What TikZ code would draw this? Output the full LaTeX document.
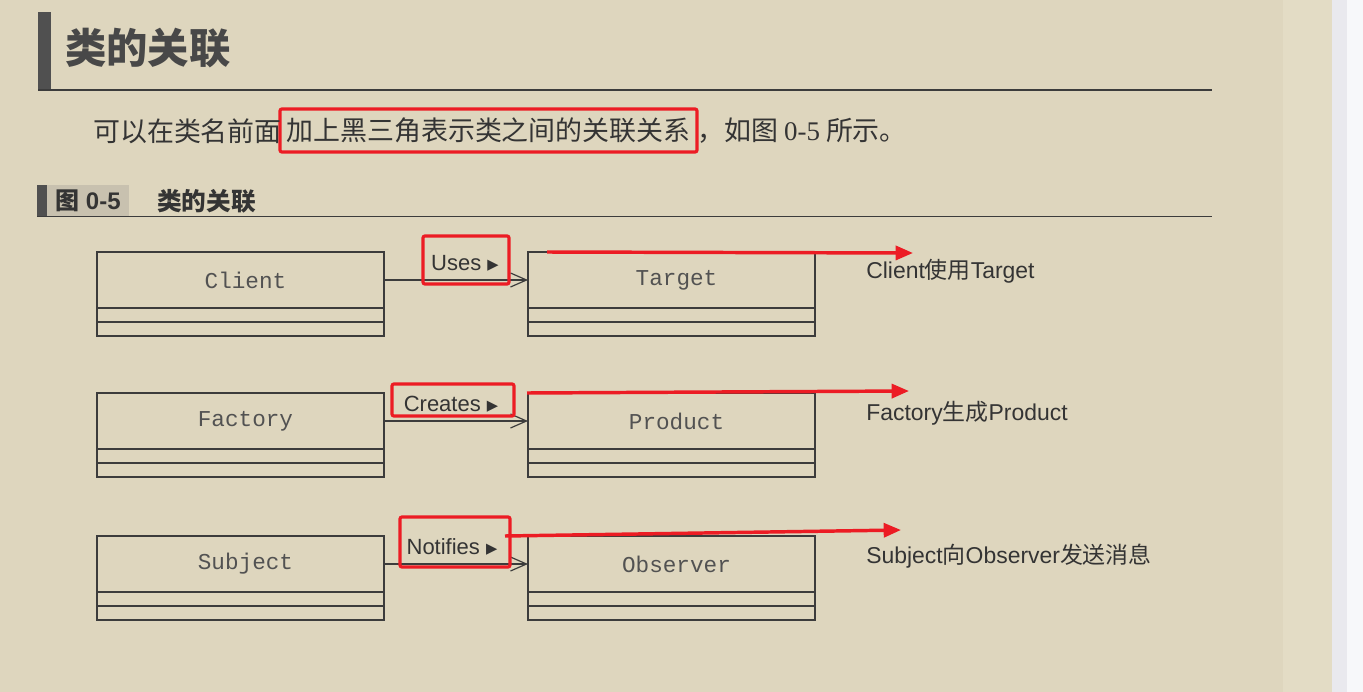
\documentclass[tikz,border=0pt]{standalone}
\usepackage{fontspec}
\setmainfont{Liberation Sans}
\newfontfamily\cjk{Noto Sans CJK SC}
\newfontfamily\serifnum{Liberation Serif}
\newfontfamily\monofnt{Liberation Mono}
\newfontfamily\symfnt{DejaVu Sans}
\usetikzlibrary{arrows.meta}
\definecolor{bgc}{RGB}{222,214,190}
\definecolor{bgband}{RGB}{227,220,197}
\definecolor{grstrip}{RGB}{233,233,238}
\definecolor{whstrip}{RGB}{247,248,250}
\definecolor{txtc}{RGB}{52,52,52}
\definecolor{linec}{RGB}{60,60,60}
\definecolor{barc}{RGB}{80,80,80}
\definecolor{capbox}{RGB}{200,193,175}
\definecolor{redc}{RGB}{236,28,36}
\tikzset{
  cls/.style={draw=linec, line width=0.9pt, minimum width=215.25pt, minimum height=42pt,
    inner sep=0pt, outer sep=0pt, anchor=north west, text=txtc!85,
    font=\monofnt\fontsize{17}{17}\selectfont},
  clsline/.style={draw=linec, line width=0.9pt},
  assoc/.style={draw=linec, line width=0.9pt, -{Straight Barb[length=12pt,width=10.5pt,line width=0.9pt]}},
  redbox/.style={draw=redc, line width=2.4pt, rounded corners=1.5pt, inner sep=0pt},
  redarrow/.style={draw=redc, line width=2.6pt, -{Triangle[length=13pt,width=10.5pt]}},
  lbl/.style={text=txtc, inner sep=0pt, font=\fontsize{16.5}{16.5}\selectfont},
  note/.style={text=txtc, inner sep=0pt, anchor=west, font=\fontsize{17.2}{17.2}\selectfont},
  para/.style={text=txtc, inner sep=0pt, font=\cjk\fontsize{20.2}{20.2}\selectfont},
}
\newcommand\umlclass[3]{%
  \node[cls] (#1) at (#2) {\hspace*{7.5pt}#3};
  \draw[clsline] (#1.south west) -- ++(0,28) -- ++(287,0) -- ++(0,-28);
  \draw[clsline] (#1.south west) ++(0,14) -- ++(287,0);
}
\begin{document}
\begin{tikzpicture}[x=0.75pt,y=-0.75pt]
\useasboundingbox (0,0) rectangle (1363,692);
% background
\fill[bgc] (0,0) rectangle (1332,692);
\fill[bgband] (1283,0) rectangle (1332,692);
\fill[grstrip] (1332,0) rectangle (1347,692);
\fill[whstrip] (1347,0) rectangle (1363,692);
% title
\fill[barc] (38,12) rectangle (51,90);
\draw[linec, line width=1.6pt] (38,90) -- (1212,90);
\node[text=txtc!90, inner sep=0pt, anchor=west, font=\cjk\bfseries\fontsize{31}{31}\selectfont] (title) at (65,48) {类的关联};
% paragraph
\node[redbox, para, minimum width=312.75pt, minimum height=32.25pt] (hl) at (488.5,130.5) {加上黑三角表示类之间的关联关系};
\node[para, anchor=east] (p1) at (282,131) {可以在类名前面};
\node[para, anchor=west] (p2) at (697,131) {，如图 {\serifnum 0-5} 所示。};
% caption
\fill[capbox] (46,185) rectangle (129,216);
\fill[barc] (37,185) rectangle (47,216);
\draw[linec, line width=1.1pt] (37,216.5) -- (1212,216.5);
\node[text=txtc, inner sep=0pt, anchor=west, font=\fontsize{18}{18}\selectfont\bfseries] (fig) at (55,201) {{\cjk 图} 0-5};
\node[text=txtc, inner sep=0pt, anchor=west, font=\cjk\bfseries\fontsize{18.5}{18.5}\selectfont] (figt) at (157,201) {类的关联};
% classes
\umlclass{client}{97,252}{Client}
\umlclass{target}{528,252}{Target}
\umlclass{factory}{97,393}{Factory}
\umlclass{product}{528,393}{Product}
\umlclass{subject}{97,536}{Subject}
\umlclass{observer}{528,536}{Observer}
% associations
\draw[assoc] (client) -- (target);
\draw[assoc] (factory) -- (product);
\draw[assoc] (subject) -- (observer);
% labels in red boxes
\node[redbox, minimum width=64.5pt, minimum height=36pt] (ubox) at (466,260) {};
\node[lbl] (uses) at (465,263) {Uses {\symfnt\fontsize{11}{11}\selectfont\raisebox{1pt}{▶}}};
\node[redbox, minimum width=91.5pt, minimum height=24pt] (cbox) at (453,400) {};
\node[lbl] (creates) at (451,404) {Creates {\symfnt\fontsize{11}{11}\selectfont\raisebox{1pt}{▶}}};
\node[redbox, minimum width=82.5pt, minimum height=37.5pt] (nbox) at (455,542) {};
\node[lbl] (notifies) at (452,547) {Notifies {\symfnt\fontsize{11}{11}\selectfont\raisebox{1pt}{▶}}};
% notes
\node[note] (n1) at (866,271) {Client{\cjk 使用}Target};
\node[note] (n2) at (866,413) {Factory{\cjk 生成}Product};
\node[note] (n3) at (866,556) {Subject{\cjk 向}Observer{\cjk 发送消息}};
% red arrows
\coordinate (ua) at (547,252);
\coordinate (ub) at (913,253);
\coordinate (ca) at (527,393);
\coordinate (cb) at (909,391);
\coordinate (na) at (505,536);
\coordinate (nb) at (901,530);
\draw[redarrow] (ua) -- (ub);
\draw[redarrow] (ca) -- (cb);
\draw[redarrow] (na) -- (nb);
\end{tikzpicture}
\end{document}
